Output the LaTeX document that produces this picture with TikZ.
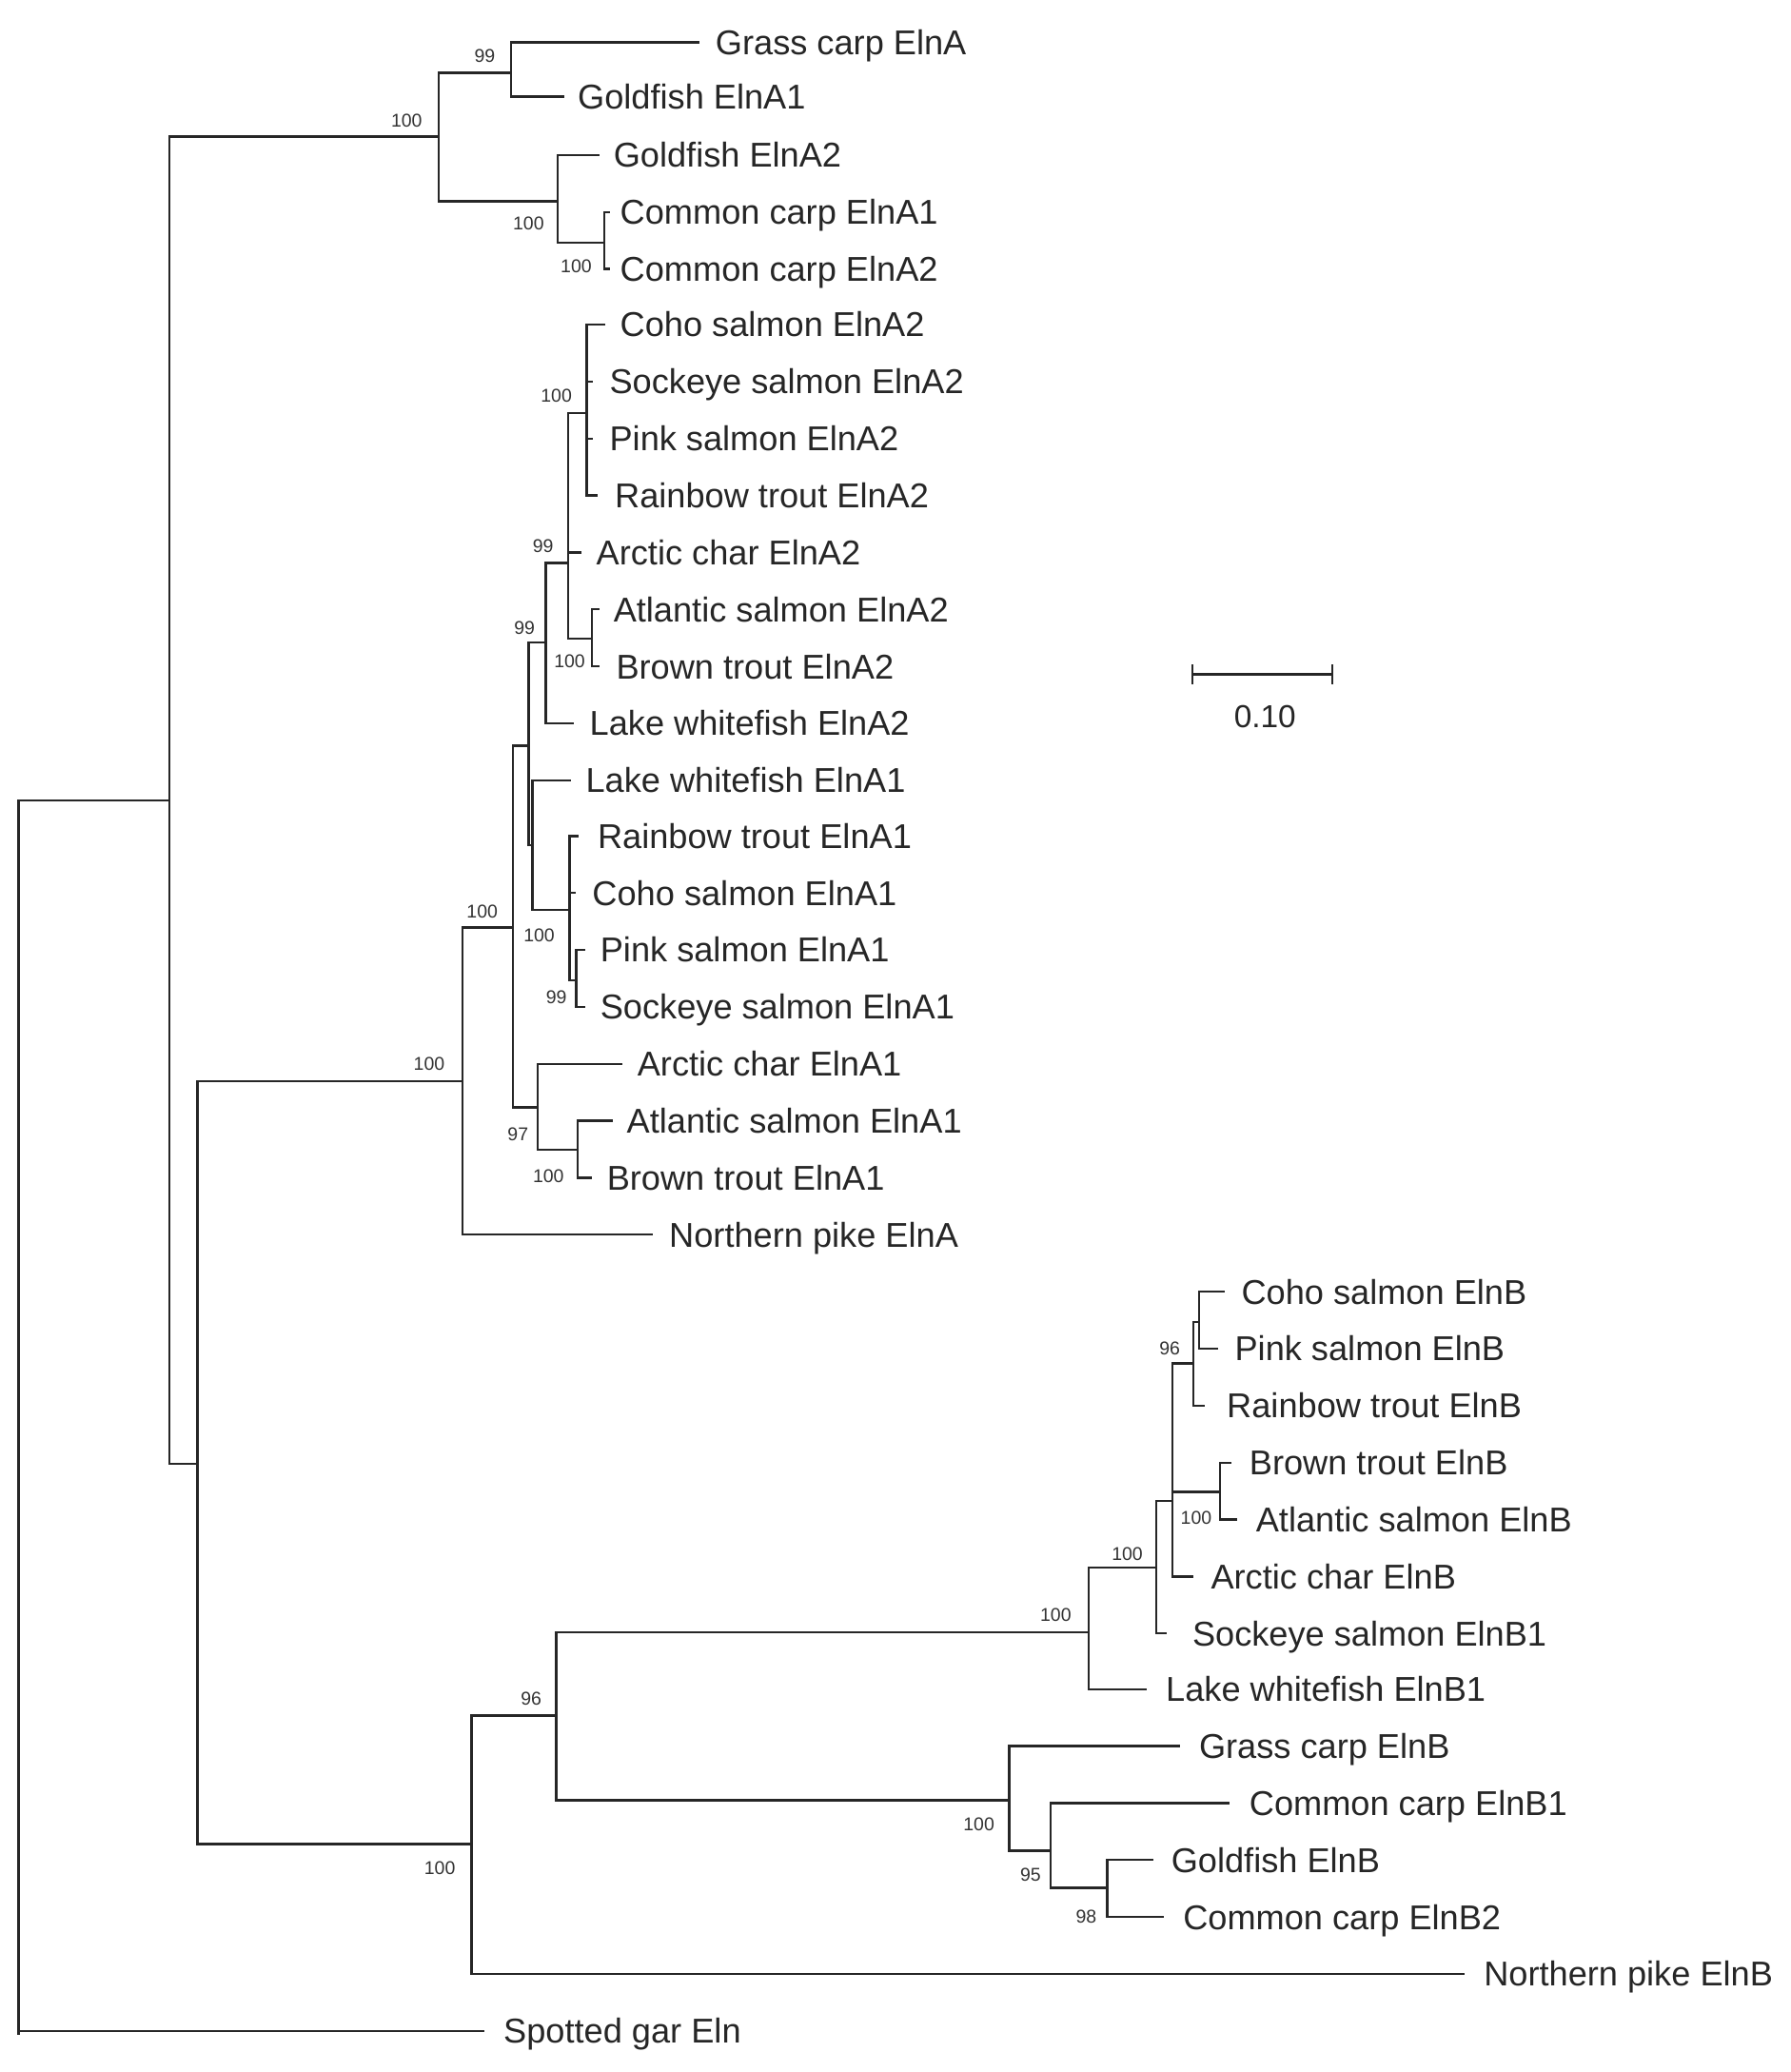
\documentclass[tikz,border=0pt]{standalone}
\usepackage{fontspec}
\setmainfont{Liberation Sans}
\begin{document}
\begin{tikzpicture}[x=1pt,y=-1pt,
  br/.style={line width=1.7pt,line cap=rect,black!85},
  leaflab/.style={anchor=west,inner sep=0pt,text height=18.6pt,text depth=0pt,font=\fontsize{26}{26}\selectfont,text=black!85},
  boot/.style={inner sep=0pt,font=\fontsize{14}{14}\selectfont,text=black!80}]
\useasboundingbox (0,0) rectangle (1352,1564);
\fill[white] (0,0) rectangle (1352,1564);
% verticals
\foreach \x/\a/\b in {14/604/1535,128/103/1105,331/55/152,386/32/73,421/117/183,456/160/203,149/816/1392,349/700/932,387/563/836,399/485/638,412/425/546,429/312/482,443/245/374,447/460/503,402/589/687,430/631/740,435/717/760,406/803/868,436/846/889,356/1295/1490,420/1232/1359,822/1183/1275,873/1133/1233,885/1029/1190,901/998/1061,905/975/1018,921/1104/1147,762/1318/1397,793/1361/1425,836/1404/1447}
  \draw[br] (\x,\a) -- (\x,\b);
% internal horizontals
\foreach \p/\c/\y in {14/128/604,128/331/103,331/386/55,331/421/152,421/456/183,128/149/1105,149/349/816,349/387/700,387/399/563,399/412/485,412/429/425,429/443/312,429/447/482,399/402/638,402/430/687,430/435/740,387/406/836,406/436/868,149/356/1392,356/420/1295,420/822/1232,822/873/1183,873/885/1133,885/901/1029,901/905/998,885/921/1126,420/762/1359,762/793/1397,793/836/1425}
  \draw[br] (\p,\y) -- (\c,\y);
% leaves
\foreach \n/\a/\b/\y/\lx/\t in {
 l1/386/527/32/540/Grass carp ElnA,
 l2/386/425/73/436/Goldfish ElnA1,
 l3/421/452/117/463/Goldfish ElnA2,
 l4/456/460/160/468/Common carp ElnA1,
 l5/456/460/203/468/Common carp ElnA2,
 l6/443/456/245/468/Coho salmon ElnA2,
 l7/443/447/288/460/Sockeye salmon ElnA2,
 l8/443/447/331/460/Pink salmon ElnA2,
 l9/443/450/374/464/Rainbow trout ElnA2,
 l10/429/438/417/450/Arctic char ElnA2,
 l11/447/452/460/463/Atlantic salmon ElnA2,
 l12/447/452/503/465/Brown trout ElnA2,
 l13/412/432/546/445/Lake whitefish ElnA2,
 l14/402/430/589/442/Lake whitefish ElnA1,
 l15/430/436/631/451/Rainbow trout ElnA1,
 l16/430/434/674/447/Coho salmon ElnA1,
 l17/435/441/717/453/Pink salmon ElnA1,
 l18/435/441/760/453/Sockeye salmon ElnA1,
 l19/406/469/803/481/Arctic char ElnA1,
 l20/436/462/846/473/Atlantic salmon ElnA1,
 l21/436/446/889/458/Brown trout ElnA1,
 l22/349/492/932/505/Northern pike ElnA,
 l23/905/924/975/937/Coho salmon ElnB,
 l24/905/919/1018/932/Pink salmon ElnB,
 l25/901/909/1061/926/Rainbow trout ElnB,
 l26/921/929/1104/943/Brown trout ElnB,
 l27/921/933/1147/948/Atlantic salmon ElnB,
 l28/885/900/1190/914/Arctic char ElnB,
 l29/873/880/1233/900/Sockeye salmon ElnB1,
 l30/822/865/1275/880/Lake whitefish ElnB1,
 l31/762/890/1318/905/Grass carp ElnB,
 l32/793/927/1361/943/Common carp ElnB1,
 l33/836/870/1404/884/Goldfish ElnB,
 l34/836/878/1447/893/Common carp ElnB2,
 l35/356/1105/1490/1120/Northern pike ElnB,
 l36/14/365/1533/380/Spotted gar Eln}
{\draw[br] (\a,\y) -- (\b,\y); \node[leaflab] (\n) at (\lx,\y) {\t};}
% bootstrap values
\foreach \v/\x/\y [count=\i] in {99/366/42,100/307/91,100/399/169,100/435/201,100/420/299,99/410/412,99/396/474,100/430/499,100/364/688,100/324/803,100/407/706,99/420/753,97/391/856,100/414/888,96/883/1018,100/903/1146,100/851/1173,100/797/1219,96/401/1282,100/739/1377,95/778/1415,98/820/1447,100/332/1410}
  \node[boot] (b\i) at (\x,\y) {\v};
% scale bar
\draw[br] (900,509) -- (1006,509);
\draw[br] (900,502) -- (900,516);
\draw[br] (1006,502) -- (1006,516);
\node[leaflab,anchor=center,font=\fontsize{24}{24}\selectfont] (sc) at (955,540) {0.10};
\end{tikzpicture}
\end{document}
